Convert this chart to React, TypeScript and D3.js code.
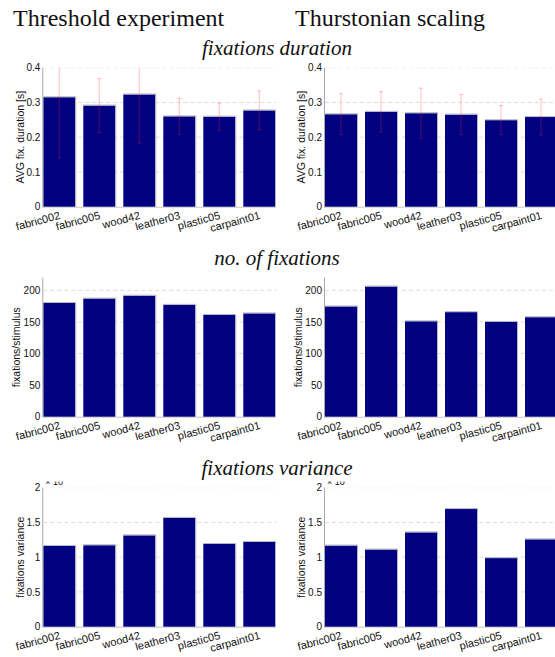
import React from "react";
import * as d3 from "d3";

const categories = ["fabric002", "fabric005", "wood42", "leather03", "plastic05", "carpaint01"];
const durThreshold = [0.315, 0.291, 0.323, 0.26, 0.259, 0.277];
const durThresholdErr = [0.175, 0.078, 0.14, 0.052, 0.039, 0.056];
const durThurstonian = [0.266, 0.273, 0.269, 0.265, 0.249, 0.258];
const durThurstonianErr = [0.059, 0.058, 0.072, 0.058, 0.042, 0.052];
const countThreshold = [180, 187, 191.5, 177, 161, 163.5];
const countThurstonian = [174.5, 206, 151, 165.5, 150, 157.5];
const varThreshold = [1.162, 1.172, 1.314, 1.565, 1.19, 1.219];
const varThurstonian = [1.167, 1.11, 1.357, 1.693, 0.987, 1.257];

const durTicks = [0, 0.1, 0.2, 0.3, 0.4];
const countTicks = [0, 50, 100, 150, 200];
const varTicks = [0, 0.5, 1, 1.5, 2];

const columnTitles = ["Threshold experiment", "Thurstonian scaling"];
const rowTitles = ["fixations duration", "no. of fixations", "fixations variance"];
const yLabels = ["AVG fix. duration [s]", "fixations/stimulus", "fixations variance"];

const W = 555;
const H = 657;
const SANS = "Liberation Sans, Arial, Helvetica, sans-serif";
const SERIF = "Liberation Serif, Times New Roman, serif";

type PanelSpec = {
  id: string;
  axisX: number;
  clipRight: number;
  y0: number;
  values: number[];
  errors?: number[];
  domain: [number, number];
  ticks: number[];
  yLabel: string;
  labelCenter: number;
  exponent?: boolean;
};

function Panel({ p }: { p: PanelSpec }) {
  const plotH = 139;
  const y = d3.scaleLinear().domain(p.domain).range([p.y0, p.y0 - plotH]);
  const x = d3
    .scaleBand<string>()
    .domain(categories)
    .range([p.axisX, p.axisX + 232])
    .paddingInner(0.2)
    .paddingOuter(0);
  const bw = x.bandwidth();
  const top = y(p.domain[1]);
  const clipId = `clip-${p.id}`;
  const expClip = `exp-${p.id}`;
  return (
    <g>
      <defs>
        <clipPath id={clipId}>
          <rect x={p.axisX - 2} y={top} width={p.clipRight - p.axisX + 2} height={p.y0 - top + 60} />
        </clipPath>
        <clipPath id={expClip}>
          <rect x={p.axisX - 30} y={481.6} width={60} height={20} />
        </clipPath>
      </defs>
      <g clipPath={`url(#${clipId})`}>
        {p.ticks
          .filter((t) => t > 0)
          .map((t) => (
            <line
              key={t}
              x1={p.axisX}
              x2={p.clipRight}
              y1={y(t)}
              y2={y(t)}
              stroke="#dcdcdc"
              strokeWidth={1}
              strokeDasharray="4,3"
            />
          ))}
        <line x1={p.axisX} x2={p.clipRight} y1={p.y0 + 0.5} y2={p.y0 + 0.5} stroke="#c8c8c8" strokeWidth={1} />
        {categories.map((c, i) => {
          const x0 = x(c)!;
          const yt = y(p.values[i]);
          return (
            <g key={c}>
              <rect x={x0} y={yt} width={bw} height={p.y0 - yt} fill="#000080" />
              <polyline
                points={`${x0},${yt - 0.5} ${x0 + bw + 0.5},${yt - 0.5} ${x0 + bw + 0.5},${p.y0}`}
                fill="none"
                stroke="#b4b4c4"
                strokeWidth={1}
              />
            </g>
          );
        })}
        {p.errors &&
          categories.map((c, i) => {
            const cx = x(c)! + bw / 2;
            const hi = y(p.values[i] + p.errors![i]);
            const lo = y(p.values[i] - p.errors![i]);
            const col = "rgba(255,40,60,0.3)";
            return (
              <g key={"e" + c}>
                <line x1={cx} x2={cx} y1={hi} y2={lo} stroke={col} strokeWidth={1} />
                <line x1={cx - 2} x2={cx + 2} y1={hi} y2={hi} stroke={col} strokeWidth={1} />
                <line x1={cx - 2} x2={cx + 2} y1={lo} y2={lo} stroke={col} strokeWidth={1} />
              </g>
            );
          })}
      </g>
      <line x1={p.axisX - 0.5} x2={p.axisX - 0.5} y1={top} y2={p.y0 + 1} stroke="#a8a8a8" strokeWidth={1} />
      {p.ticks.map((t) => (
        <text
          key={"t" + t}
          x={p.axisX - 3}
          y={y(t)}
          dy="0.36em"
          textAnchor="end"
          fontFamily={SANS}
          fontSize={10}
          fill="#111"
        >
          {String(t)}
        </text>
      ))}
      {p.exponent && (
        <g clipPath={`url(#${expClip})`}>
          <text x={p.axisX + 2} y={485} fontFamily={SANS} fontSize={9} fill="#111">
            × 10
          </text>
        </g>
      )}
      <text
        transform={`translate(${p.labelCenter},${p.y0 - plotH / 2}) rotate(-90)`}
        textAnchor="middle"
        dy="0.35em"
        fontFamily={SANS}
        fontSize={10.5}
        fill="#111"
      >
        {p.yLabel}
      </text>
      {categories.map((c) => {
        const cx = x(c)! + bw / 2;
        return (
          <text
            key={"x" + c}
            transform={`translate(${cx + 1.5},${p.y0 + 12}) rotate(-15)`}
            textAnchor="end"
            fontFamily={SANS}
            fontSize={11}
            fill="#111"
          >
            {c}
          </text>
        );
      })}
    </g>
  );
}

export default function App() {
  const leftX = 43.3;
  const rightX = 325;
  const y0s = [206.7, 416.7, 626.7];
  const panels: PanelSpec[] = [
    { id: "a", axisX: leftX, clipRight: 276, y0: y0s[0], values: durThreshold, errors: durThresholdErr, domain: [0, 0.4], ticks: durTicks, yLabel: yLabels[0], labelCenter: 20 },
    { id: "b", axisX: rightX, clipRight: 555, y0: y0s[0], values: durThurstonian, errors: durThurstonianErr, domain: [0, 0.4], ticks: durTicks, yLabel: yLabels[0], labelCenter: 301.7 },
    { id: "c", axisX: leftX, clipRight: 276, y0: y0s[1], values: countThreshold, domain: [0, 220], ticks: countTicks, yLabel: yLabels[1], labelCenter: 16.7 },
    { id: "d", axisX: rightX, clipRight: 555, y0: y0s[1], values: countThurstonian, domain: [0, 220], ticks: countTicks, yLabel: yLabels[1], labelCenter: 298.5 },
    { id: "e", axisX: leftX, clipRight: 276, y0: y0s[2], values: varThreshold, domain: [0, 2], ticks: varTicks, yLabel: yLabels[2], labelCenter: 20, exponent: true },
    { id: "f", axisX: rightX, clipRight: 555, y0: y0s[2], values: varThurstonian, domain: [0, 2], ticks: varTicks, yLabel: yLabels[2], labelCenter: 301.7, exponent: true },
  ];
  const titleBaselines = [55, 265, 475];
  return (
    <svg
      width={W}
      height={H}
      viewBox={`0 0 ${W} ${H}`}
      style={{ position: "fixed", left: 0, top: 0, background: "#fff" }}
    >
      <rect width={W} height={H} fill="#fff" />
      <text x={13} y={26} fontFamily={SERIF} fontSize={24} fill="#111">
        {columnTitles[0]}
      </text>
      <text x={295} y={26} fontFamily={SERIF} fontSize={24} fill="#111">
        {columnTitles[1]}
      </text>
      {rowTitles.map((t, i) => (
        <text
          key={t}
          x={277}
          y={titleBaselines[i]}
          textAnchor="middle"
          fontFamily={SERIF}
          fontStyle="italic"
          fontSize={21}
          fill="#111"
        >
          {t}
        </text>
      ))}
      {panels.map((p) => (
        <Panel key={p.id} p={p} />
      ))}
    </svg>
  );
}
